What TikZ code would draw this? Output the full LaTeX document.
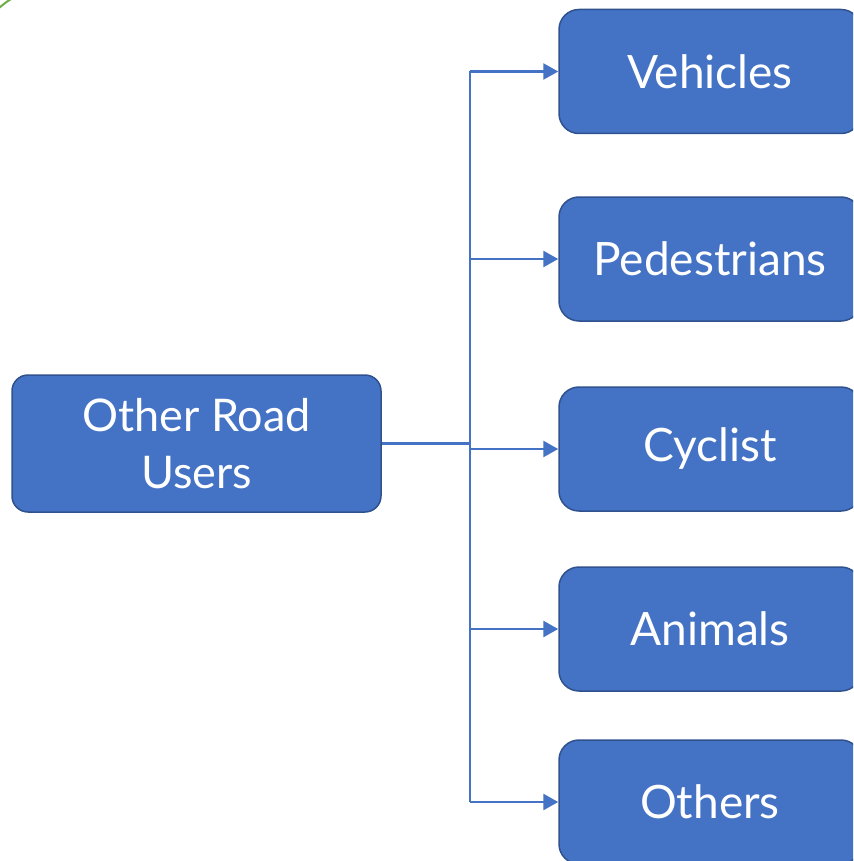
\documentclass[tikz,border=0pt]{standalone}
\usepackage{fontspec}
\setmainfont{Lato}
\usepackage{tikz}
\usetikzlibrary{arrows.meta,positioning}

\definecolor{boxblue}{HTML}{4472C4}
\definecolor{boxedge}{HTML}{2F528F}
\definecolor{leafgreen}{HTML}{70AD47}

\tikzset{
    rootbox/.style={draw=boxedge, fill=boxblue, line width=1.5pt, rounded corners=16pt,
        minimum width=369pt, minimum height=137pt, inner sep=0pt,
        text=white, font=\fontsize{45}{57}\selectfont, align=center},
    leafbox/.style={draw=boxedge, fill=boxblue, line width=1.5pt, rounded corners=20pt,
        minimum width=302pt, minimum height=124pt, inner sep=0pt,
        text=white, font=\fontsize{46}{57}\selectfont},
    branch/.style={draw=boxblue, line width=2.6pt},
    arrowline/.style={branch, -{Triangle[length=15pt, width=16pt]}}
}

\begin{document}
\begin{tikzpicture}[x=1pt, y=-1pt]
    % Fix the frame of the picture (one unit = one pixel of the reference)
    \useasboundingbox (0,0) rectangle (853,861);
    \clip (0,0) rectangle (853,861);

    % Short green stroke in the top left corner
    \draw[leafgreen, line width=2pt] (-1,8) to[bend left=4] (11,-1);

    % The root box
    \node[rootbox] (root) at (196.5,443.5) {Other Road\\Users};

    % The five boxes on the right
    \node[leafbox] (vehicles)    at (710,71.5)  {Vehicles};
    \node[leafbox] (pedestrians) at (710,259)   {Pedestrians};
    \node[leafbox] (cyclist)     at (710,449)   {Cyclist};
    \node[leafbox] (animals)     at (710,629)   {Animals};
    \node[leafbox] (others)      at (710,802)   {Others};

    % Point where the trunk meets the line from the root
    \coordinate (trunk) at (470,443.5);

    % Line from the root and the vertical trunk
    \draw[branch] (root.east) -- (trunk);
    \draw[branch] (trunk |- vehicles.west) -- (trunk |- others.west);

    % Arrows from the trunk to every box
    \draw[arrowline] (trunk |- vehicles.west) -- (vehicles.west);
    \draw[arrowline] (trunk |- pedestrians.west) -- (pedestrians.west);
    \draw[arrowline] (trunk |- cyclist.west) -- (cyclist.west);
    \draw[arrowline] (trunk |- animals.west) -- (animals.west);
    \draw[arrowline] (trunk |- others.west) -- (others.west);
\end{tikzpicture}
\end{document}
